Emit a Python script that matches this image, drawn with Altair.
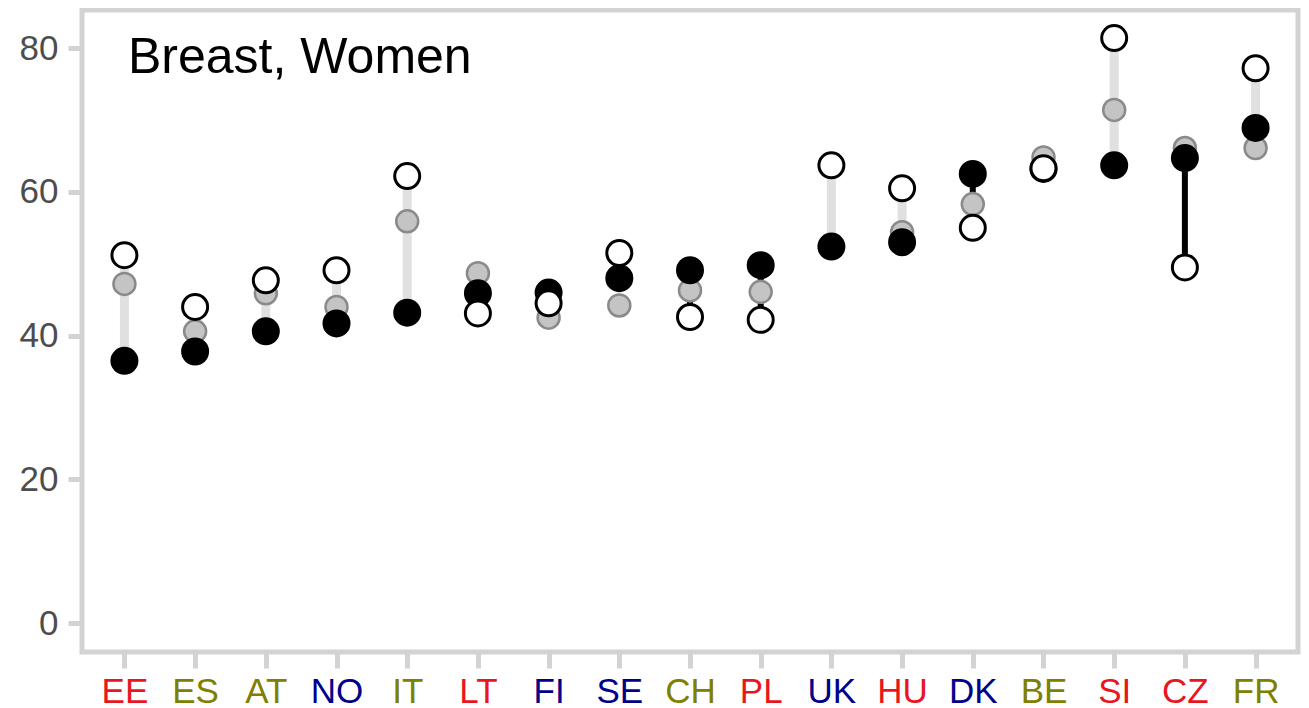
import altair as alt
import pandas as pd

countries = ["EE", "ES", "AT", "NO", "IT", "LT", "FI", "SE", "CH", "PL",
             "UK", "HU", "DK", "BE", "SI", "CZ", "FR"]
black_vals = [36.5, 37.8, 40.6, 41.7, 43.2, 45.9, 46.0, 48.0, 49.1, 49.8,
              52.4, 53.0, 62.5, 63.2, 63.7, 64.7, 68.9]
gray_vals = [47.2, 40.6, 45.9, 44.0, 55.9, 48.7, 42.5, 44.2, 46.3, 46.1,
             52.4, 54.4, 58.3, 64.8, 71.4, 66.1, 66.1]
white_vals = [51.2, 44.0, 47.7, 49.1, 62.2, 43.1, 44.5, 51.5, 42.6, 42.2,
              63.7, 60.5, 55.0, 63.3, 81.4, 49.5, 77.2]
label_groups = ["red", "olive", "olive", "navy", "olive", "red", "navy", "navy", "olive", "red",
                "navy", "red", "navy", "olive", "red", "red", "olive"]
group_colors = {"red": "#e8161e", "olive": "#808000", "navy": "#00008b"}
title_text = "Breast, Women"

df = pd.DataFrame({
    "country": countries,
    "black": black_vals,
    "gray": gray_vals,
    "white": white_vals,
})
df["dir"] = ["up" if w >= b else "down" for w, b in zip(white_vals, black_vals)]

# label colour expression
expr = "'#000000'"
for c, g in reversed(list(zip(countries, label_groups))):
    expr = f"datum.value === '{c}' ? '{group_colors[g]}' : ({expr})"

FONT = "Liberation Sans"

x_enc = alt.X(
    "country:N",
    sort=countries,
    scale=alt.Scale(type="point", padding=0.6),
    axis=alt.Axis(
        title=None, labelAngle=0, tickSize=16, labelPadding=6,
        labelColor={"expr": expr}, labelFontSize=35,
    ),
)
y_scale = alt.Scale(domain=[-4.0, 85.3], nice=False, zero=False)
y_axis = alt.Axis(title=None, values=[0, 20, 40, 60, 80], tickSize=14,
                  labelPadding=10, labelColor="#4d4d4d", labelFontSize=35)

base = alt.Chart(df)

rules = base.mark_rule().encode(
    x=x_enc,
    y=alt.Y("black:Q", scale=y_scale, axis=y_axis),
    y2="white:Q",
    color=alt.Color("dir:N", scale=alt.Scale(domain=["up", "down"], range=["#e0e0e0", "#000000"]), legend=None),
    strokeWidth=alt.StrokeWidth("dir:N", scale=alt.Scale(domain=["up", "down"], range=[9, 6]), legend=None),
)

gray_pts = base.mark_point(
    filled=True, shape="circle", size=484, fill="#c4c4c4", stroke="#8a8a8a", strokeWidth=2.5, opacity=1
).encode(x=x_enc, y=alt.Y("gray:Q", scale=y_scale, axis=y_axis))

black_pts = base.mark_point(
    filled=True, shape="circle", size=676, fill="#000000", stroke="#000000", strokeWidth=2, opacity=1
).encode(x=x_enc, y=alt.Y("black:Q", scale=y_scale, axis=y_axis))

white_pts = base.mark_point(
    filled=True, shape="circle", size=625, fill="#ffffff", stroke="#000000", strokeWidth=3, opacity=1
).encode(x=x_enc, y=alt.Y("white:Q", scale=y_scale, axis=y_axis))

title = alt.Chart(pd.DataFrame({"t": [title_text]})).mark_text(
    align="left", baseline="alphabetic", fontSize=50, font=FONT, color="#000000"
).encode(x=alt.value(46), y=alt.value(63), text="t:N")

chart = alt.layer(rules, gray_pts, black_pts, white_pts, title).properties(
    width=1216, height=642,
    padding={"left": 74, "top": 2, "right": 3, "bottom": 56},
    autosize=alt.AutoSizeParams(type="none"),
).configure_view(
    stroke="#d3d3d3", strokeWidth=5
).configure_axis(
    domain=False, grid=False, tickColor="#d3d3d3", tickWidth=5,
    labelFont=FONT,
)

chart.save("out.html", embed_options={"renderer": "svg", "actions": False})
